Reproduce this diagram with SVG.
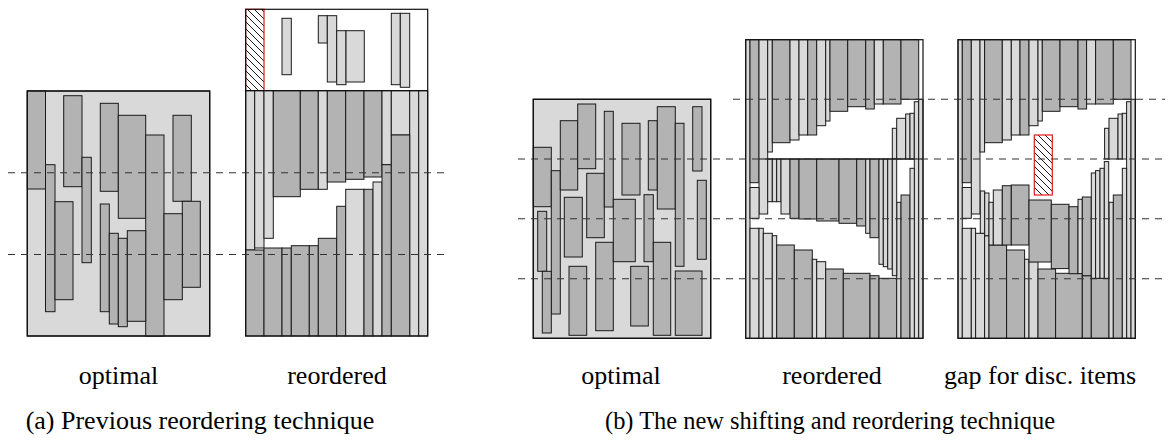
<svg xmlns="http://www.w3.org/2000/svg" width="1172" height="443" viewBox="0 0 1172 443">
<style>
.d{fill:#b3b3b3;stroke:#1a1a1a;stroke-width:1}
.l{fill:#d9d9d9;stroke:#1a1a1a;stroke-width:1}
.box{fill:none;stroke:#111;stroke-width:1.2}
.bg{fill:#d9d9d9;stroke:#111;stroke-width:1.2}
.wh{fill:#fff;stroke:none}
.dash{stroke:#333;stroke-width:1.1;stroke-dasharray:7 6;fill:none}
.hat{fill:url(#hatch);stroke:#e41a1a;stroke-width:1.2}
.solid{stroke:#111;stroke-width:1.2}
text{font-family:"Liberation Serif","Times New Roman",serif;font-size:26px;fill:#000;text-anchor:middle}
</style>
<defs>
<pattern id="hatch" patternUnits="userSpaceOnUse" width="7" height="7">
<rect width="7" height="7" fill="#fff"/>
<path d="M-1,-1 L8,8 M-1,6 L1,8 M6,-1 L8,1" stroke="#000" stroke-width="0.9"/>
</pattern>
<g id="shared">
<rect class="l" x="745.7" y="39.7" width="4.3" height="298.6"/>
<rect class="d" x="750" y="39.7" width="9" height="143"/>
<rect class="l" x="759" y="39.7" width="8.7" height="174.3"/>
<rect class="l" x="767.7" y="39.7" width="4.6" height="112.3"/>
<rect class="d" x="772.3" y="39.7" width="17.7" height="103"/>
<rect class="l" x="790" y="39.7" width="9" height="100.3"/>
<rect class="l" x="799" y="39.7" width="8.7" height="95.3"/>
<rect class="d" x="807.7" y="39.7" width="9" height="95.3"/>
<rect class="l" x="816.7" y="39.7" width="9" height="86"/>
<rect class="l" x="825.7" y="39.7" width="4.3" height="81.3"/>
<rect class="d" x="830" y="39.7" width="17.7" height="71.6"/>
<rect class="d" x="847.7" y="39.7" width="18" height="67"/>
<rect class="d" x="865.7" y="39.7" width="8.6" height="69.3"/>
<rect class="l" x="874.3" y="39.7" width="9" height="64.3"/>
<rect class="d" x="883.3" y="39.7" width="17.7" height="64.3"/>
<rect class="d" x="901" y="39.7" width="17.7" height="59.6"/>
<rect class="l" x="892.3" y="128.3" width="4.4" height="30.7"/>
<rect class="l" x="896.7" y="118.3" width="9" height="40.7"/>
<rect class="l" x="905.7" y="114" width="4.3" height="45"/>
<rect class="l" x="910" y="113.3" width="4.3" height="45.7"/>
<rect class="l" x="914.3" y="101.7" width="4.4" height="236.6"/>
<rect class="l" x="918.7" y="99.3" width="4.3" height="239"/>
<rect class="l" x="750" y="187.5" width="9" height="30.8"/>
<rect class="l" x="750" y="228.3" width="9" height="110"/>
<rect class="l" x="759" y="228.3" width="4.3" height="110"/>
<rect class="l" x="763.3" y="233.3" width="9" height="105"/>
<rect class="l" x="772.3" y="235.7" width="4.4" height="102.6"/>
<rect class="d" x="776.7" y="245" width="17.6" height="93.3"/>
<rect class="d" x="794.3" y="250" width="18" height="88.3"/>
<rect class="l" x="812.3" y="259.3" width="4.4" height="79"/>
<rect class="l" x="816.7" y="261.7" width="9" height="76.6"/>
<rect class="d" x="825.7" y="269" width="17.6" height="69.3"/>
<rect class="d" x="843.3" y="273.3" width="26.7" height="65"/>
<rect class="d" x="870" y="275.7" width="9" height="62.6"/>
<rect class="d" x="879" y="278.3" width="17.7" height="60"/>
<rect class="l" x="896.7" y="202.3" width="4.3" height="136"/>
<rect class="d" x="901" y="195" width="9" height="143.3"/>
<rect class="l" x="910" y="168.3" width="4.3" height="170"/>
<rect class="box" x="745.7" y="39.7" width="177.3" height="298.6"/>
</g>
</defs>

<g id="panel-a-optimal">
<rect class="bg" x="27.3" y="91" width="182.4" height="245"/>
<rect class="d" x="27.3" y="91" width="18.2" height="98"/>
<rect class="d" x="45.5" y="164.7" width="9.5" height="147"/>
<rect class="d" x="55" y="201.7" width="18" height="98"/>
<rect class="d" x="63.7" y="95.7" width="18.3" height="91"/>
<rect class="d" x="82" y="157.3" width="9.3" height="105.4"/>
<rect class="d" x="100.3" y="103.3" width="18" height="88"/>
<rect class="d" x="118.3" y="115.3" width="27.4" height="103"/>
<rect class="d" x="145.7" y="135" width="18.3" height="201"/>
<rect class="d" x="173" y="115.3" width="18.3" height="86"/>
<rect class="d" x="182.3" y="201.3" width="18" height="86"/>
<rect class="d" x="164" y="213.7" width="18.3" height="86"/>
<rect class="d" x="100.3" y="204" width="9" height="107.7"/>
<rect class="d" x="109.3" y="233.3" width="9" height="90.7"/>
<rect class="d" x="118.3" y="238.3" width="9" height="88.4"/>
<rect class="d" x="127.3" y="230.7" width="18.4" height="90.6"/>
<rect class="box" x="27.3" y="91" width="182.4" height="245"/>
</g>

<g id="panel-a-reordered">
<rect class="wh" x="245.7" y="9.3" width="182" height="326.7"/>
<rect class="hat" x="245.7" y="9.3" width="18.3" height="81.4"/>
<rect class="l" x="282" y="18.3" width="9.3" height="56.4"/>
<rect class="l" x="318.3" y="15.7" width="9" height="27.3"/>
<rect class="l" x="327.3" y="15.7" width="9.4" height="66.3"/>
<rect class="l" x="336.7" y="30.7" width="9.3" height="54"/>
<rect class="l" x="346" y="30.7" width="18.3" height="51.3"/>
<rect class="l" x="391.3" y="13.3" width="9" height="71.4"/>
<rect class="l" x="400.3" y="13.3" width="9.4" height="74"/>
<rect class="l" x="245.7" y="90.7" width="9" height="159.3"/>
<rect class="l" x="254.7" y="90.7" width="9.3" height="157.3"/>
<rect class="l" x="264" y="90.7" width="9.3" height="147.6"/>
<rect class="d" x="273.3" y="90.7" width="27" height="106"/>
<rect class="d" x="300.3" y="90.7" width="18" height="98.6"/>
<rect class="l" x="318.3" y="90.7" width="9" height="98.6"/>
<rect class="d" x="327.3" y="90.7" width="18.4" height="91.3"/>
<rect class="d" x="345.7" y="90.7" width="18.3" height="88.6"/>
<rect class="d" x="364" y="90.7" width="18" height="86.3"/>
<rect class="l" x="382" y="90.7" width="9.3" height="74"/>
<rect class="l" x="391.3" y="90.7" width="18.4" height="44.3"/>
<rect class="l" x="409.7" y="90.7" width="9" height="245.3"/>
<rect class="l" x="418.7" y="90.7" width="9" height="245.3"/>
<rect class="d" x="245.7" y="250" width="18.3" height="86"/>
<rect class="d" x="264" y="248" width="18" height="88"/>
<rect class="d" x="282" y="248" width="9.3" height="88"/>
<rect class="d" x="291.3" y="245.7" width="18" height="90.3"/>
<rect class="d" x="309.3" y="245.7" width="9" height="90.3"/>
<rect class="d" x="318.3" y="238.3" width="18.4" height="97.7"/>
<rect class="d" x="336.7" y="206.3" width="9" height="129.7"/>
<rect class="l" x="345.7" y="189.3" width="18.3" height="146.7"/>
<rect class="d" x="364" y="189.3" width="9" height="146.7"/>
<rect class="l" x="373" y="182" width="9" height="154"/>
<rect class="d" x="382" y="164.7" width="9.3" height="171.3"/>
<rect class="d" x="391.3" y="135" width="18.4" height="201"/>
<rect class="box" x="245.7" y="9.3" width="182" height="326.7"/>
<line class="solid" x1="245.7" y1="90.7" x2="427.7" y2="90.7"/>
</g>

<g id="panel-b-optimal">
<rect class="bg" x="533.3" y="99.3" width="177.4" height="239"/>
<rect class="d" x="533.3" y="147.3" width="18" height="59.4"/>
<rect class="d" x="551.3" y="170.7" width="9" height="143.3"/>
<rect class="d" x="537.7" y="211.3" width="9" height="60"/>
<rect class="d" x="542.3" y="271.3" width="9" height="61.7"/>
<rect class="d" x="560.3" y="120.7" width="17.4" height="69.3"/>
<rect class="d" x="577.7" y="104" width="18" height="64.7"/>
<rect class="d" x="564.3" y="197.3" width="18" height="59.7"/>
<rect class="d" x="569" y="266.3" width="17.7" height="69"/>
<rect class="d" x="586.7" y="173.3" width="17.6" height="64.4"/>
<rect class="d" x="604.3" y="111.3" width="9" height="95.7"/>
<rect class="d" x="595.7" y="242.3" width="17.6" height="88.4"/>
<rect class="d" x="622" y="123.3" width="18" height="71.7"/>
<rect class="d" x="613.3" y="199.3" width="22" height="62.4"/>
<rect class="d" x="630.7" y="266.3" width="17.6" height="59.7"/>
<rect class="d" x="648.3" y="120.7" width="9" height="69.3"/>
<rect class="d" x="657.3" y="106.7" width="18" height="102.3"/>
<rect class="d" x="644" y="194.7" width="9.3" height="67"/>
<rect class="d" x="675.3" y="123.3" width="8.7" height="143"/>
<rect class="d" x="653.3" y="242.3" width="17.4" height="93"/>
<rect class="d" x="675.3" y="271" width="26.7" height="64.3"/>
<rect class="d" x="692.7" y="106.7" width="9.3" height="64.3"/>
<rect class="d" x="697.3" y="180.3" width="9" height="79"/>
<rect class="box" x="533.3" y="99.3" width="177.4" height="239"/>
</g>

<g id="panel-b-reordered">
<rect class="wh" x="745.7" y="39.7" width="177.3" height="298.6"/>
<use href="#shared"/>
<rect class="l" x="767.7" y="159" width="4.6" height="42.7"/>
<rect class="l" x="772.3" y="159" width="4.4" height="42.7"/>
<rect class="l" x="776.7" y="159" width="4.3" height="42.7"/>
<rect class="l" x="781" y="159" width="9" height="55"/>
<rect class="d" x="790" y="159" width="9" height="59.3"/>
<rect class="d" x="799" y="159" width="17.7" height="60"/>
<rect class="d" x="816.7" y="159" width="22.3" height="62"/>
<rect class="d" x="839" y="159" width="17.7" height="64.3"/>
<rect class="d" x="856.7" y="159" width="9" height="67"/>
<rect class="l" x="865.7" y="159" width="4.3" height="74.3"/>
<rect class="d" x="870" y="159" width="9" height="78.7"/>
<rect class="l" x="879" y="159" width="4.3" height="105.3"/>
<rect class="l" x="883.3" y="159" width="4.4" height="107.7"/>
<rect class="l" x="887.7" y="159" width="4.6" height="110"/>
<rect class="l" x="892.3" y="159" width="4.4" height="116.7"/>
<line class="solid" x1="759" y1="159" x2="923" y2="159"/>
</g>

<g id="panel-b-gap">
<rect class="wh" x="957.7" y="39.7" width="177.6" height="298.6"/>
<use href="#shared" transform="translate(212.3,0)"/>
<rect class="l" x="980.3" y="191" width="4.4" height="42.3"/>
<rect class="l" x="984.7" y="193" width="4.3" height="42.7"/>
<rect class="l" x="989" y="202.3" width="4.3" height="42.7"/>
<rect class="l" x="993.3" y="190" width="9" height="55"/>
<rect class="d" x="1002.3" y="185.7" width="9" height="59.3"/>
<rect class="d" x="1011.3" y="185" width="17.7" height="60"/>
<rect class="d" x="1029" y="200" width="22.3" height="62"/>
<rect class="d" x="1051.3" y="204.3" width="17.7" height="64.3"/>
<rect class="d" x="1069" y="206.7" width="9" height="67"/>
<rect class="l" x="1078" y="199.3" width="4.3" height="74.3"/>
<rect class="d" x="1082.3" y="197" width="9" height="78.7"/>
<rect class="l" x="1091.3" y="173" width="4.3" height="105.3"/>
<rect class="l" x="1095.6" y="170.6" width="4.4" height="107.7"/>
<rect class="l" x="1100" y="168.3" width="4.3" height="110"/>
<rect class="l" x="1104.3" y="161.6" width="4.4" height="116.7"/>
<rect class="hat" x="1034.3" y="135" width="18" height="60"/>
</g>

<g id="guides">
<line class="dash" x1="8" y1="172.7" x2="448" y2="172.7"/>
<line class="dash" x1="8" y1="254.5" x2="448" y2="254.5"/>
<line class="dash" x1="733" y1="99.3" x2="1165" y2="99.3"/>
<line class="dash" x1="518" y1="159" x2="1165" y2="159"/>
<line class="dash" x1="518" y1="218.7" x2="1165" y2="218.7"/>
<line class="dash" x1="518" y1="278.7" x2="1165" y2="278.7"/>
</g>

<g id="labels">
<text x="118.5" y="384">optimal</text>
<text x="337" y="384">reordered</text>
<text x="621" y="384">optimal</text>
<text x="832" y="384">reordered</text>
<text x="1040" y="384">gap for disc. items</text>
<text x="200" y="429">(a) Previous reordering technique</text>
<text x="830" y="429" textLength="450" lengthAdjust="spacingAndGlyphs">(b) The new shifting and reordering technique</text>
</g>
</svg>
